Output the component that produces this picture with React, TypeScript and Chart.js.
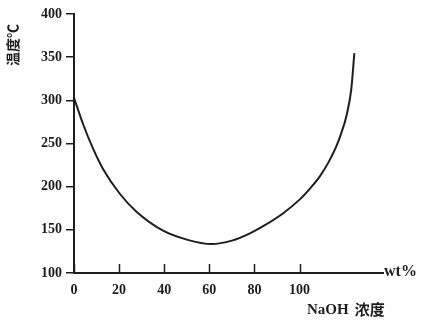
import React, { useEffect, useRef } from 'react';
import { Chart, registerables } from 'chart.js';

Chart.register(...registerables);

// NaOH concentration (wt%) and temperature (℃)
const concentration = [0, 4, 8.5, 13, 20.4, 27.7, 39.5, 50, 61, 70, 78, 85, 92.6, 100, 105, 109, 113, 116.2, 118.5, 120.7, 122.9, 124.3];
const temperature = [303, 272.6, 243.8, 220, 191.5, 171, 149, 138.7, 133.5, 137.5, 146, 156, 169, 185, 199, 212, 229, 246, 262, 281, 312, 354.6];
const xTickValues = [0, 20, 40, 60, 80, 100];
const yTickValues = [100, 150, 200, 250, 300, 350, 400];
const yTitle = '温度℃';
const xTitleLatin = 'NaOH';
const xTitleCjk = '浓度';
const xUnit = 'wt%';

const INK = '#1e1e1e';
const SERIF = '"Liberation Serif", "DejaVu Serif", serif';
const CJK = '"Noto Sans CJK SC", "Liberation Serif", serif';

const decorPlugin = {
  id: 'decor',
  afterDraw(chart: any) {
    const { ctx, chartArea } = chart;
    const xs = chart.scales.x;
    ctx.save();
    // inner ticks on x axis
    ctx.strokeStyle = INK;
    ctx.lineWidth = 1.5;
    xTickValues.forEach((v) => {
      const px = Math.round(xs.getPixelForValue(v)) + 0.5;
      ctx.beginPath();
      ctx.moveTo(px, chartArea.bottom);
      ctx.lineTo(px, chartArea.bottom - 9);
      ctx.stroke();
    });
    // unit label at end of x axis
    ctx.fillStyle = INK;
    ctx.font = `bold 16px ${SERIF}`;
    ctx.textAlign = 'left';
    ctx.textBaseline = 'middle';
    ctx.fillText(xUnit, chartArea.right + 1, chartArea.bottom - 1);
    // x title
    ctx.font = `bold 15px ${SERIF}`;
    ctx.fillText(xTitleLatin, 307, 310);
    const w = ctx.measureText(xTitleLatin).width;
    ctx.font = `bold 15px ${CJK}`;
    ctx.fillText(xTitleCjk, 307 + w + 6, 309);
    // y title (rotated)
    ctx.translate(13, 45);
    ctx.rotate(-Math.PI / 2);
    ctx.textAlign = 'center';
    ctx.font = `bold 14px ${CJK}`;
    ctx.fillText(yTitle, 0, 0);
    ctx.restore();
  },
};

export default function App() {
  const ref = useRef<HTMLCanvasElement | null>(null);
  useEffect(() => {
    if (!ref.current) return;
    const chart = new Chart(ref.current, {
      type: 'scatter',
      data: {
        datasets: [
          {
            data: concentration.map((x, i) => ({ x, y: temperature[i] })),
            showLine: true,
            borderColor: INK,
            borderWidth: 2,
            pointRadius: 0,
            cubicInterpolationMode: 'monotone',
            fill: false,
          },
        ],
      },
      options: {
        responsive: false,
        animation: false,
        layout: { padding: { top: 14, right: 52, bottom: 0, left: 0 } },
        plugins: { legend: { display: false }, tooltip: { enabled: false } },
        scales: {
          x: {
            type: 'linear',
            min: 0,
            max: 137,
            afterBuildTicks: (s: any) => {
              s.ticks = xTickValues.map((value) => ({ value }));
            },
            afterFit: (s: any) => {
              s.height = 50;
            },
            border: { display: true, color: INK, width: 2 },
            grid: { display: true, drawOnChartArea: false, drawTicks: false, color: INK },
            ticks: { color: INK, padding: 9, maxRotation: 0, font: { family: SERIF, size: 14, weight: 'bold' } },
          },
          y: {
            type: 'linear',
            min: 100,
            max: 400,
            afterBuildTicks: (s: any) => {
              s.ticks = yTickValues.map((value) => ({ value }));
            },
            afterFit: (s: any) => {
              s.width = 74;
            },
            border: { display: true, color: INK, width: 2 },
            grid: { display: true, drawOnChartArea: false, drawTicks: true, tickLength: 8, color: INK, lineWidth: 1.5 },
            ticks: { color: INK, padding: 4, font: { family: SERIF, size: 14, weight: 'bold' } },
          },
        },
      },
      plugins: [decorPlugin],
    } as any);
    return () => chart.destroy();
  }, []);
  return (
    <div style={{ position: 'absolute', left: 0, top: 0, width: 435, height: 323, background: '#fff' }}>
      <canvas ref={ref} width={435} height={323} style={{ display: 'block' }} />
    </div>
  );
}
